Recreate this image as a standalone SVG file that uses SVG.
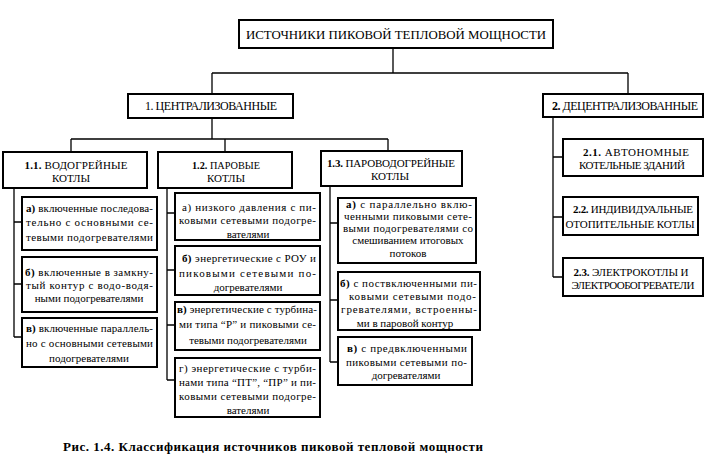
<svg xmlns="http://www.w3.org/2000/svg" width="723" height="462" viewBox="0 0 723 462">
<style>
.box{fill:#fff;stroke:#000;stroke-width:2}
.ln{stroke:#000;stroke-width:1.3;fill:none}
text{font-family:"Liberation Serif",serif}
.t{font-size:11px}
.h{font-size:11px}
.c{text-anchor:middle}
.b{font-weight:bold}
</style>
<rect width="723" height="462" fill="#fff"/>
<g id="connectors">
<path class="ln" d="M393,48V73M212,73H628M212,73V94M628,73V94"/>
<path class="ln" d="M212,118V139M71,139H388M71,139V152M225,139V152M388,139V151"/>
<path class="ln" d="M14,188V337M14,222H22M14,284H22M14,337H22"/>
<path class="ln" d="M167,188V380M167,213H175M167,270H175M167,325H175M167,380H175"/>
<path class="ln" d="M330,186V362M330,223H338M330,300H338M330,362H338"/>
<path class="ln" d="M553,117V277M553,157H563M553,217H563M553,277H563"/>
</g>
<g id="root">
<rect class="box" x="239" y="20" width="314" height="28"/>
<text x="396" y="39" class="c" font-size="13.5" textLength="300" lengthAdjust="spacingAndGlyphs">ИСТОЧНИКИ  ПИКОВОЙ  ТЕПЛОВОЙ  МОЩНОСТИ</text>
</g>
<g id="n1">
<rect class="box" x="128" y="94" width="165" height="24"/>
<text x="211" y="110" class="c" font-size="12" textLength="132" lengthAdjust="spacing">1. ЦЕНТРАЛИЗОВАННЫЕ</text>
</g>
<g id="n2">
<rect class="box" x="543" y="94" width="160" height="23"/>
<text x="625" y="110" class="c" font-size="12" textLength="146" lengthAdjust="spacing"><tspan class="b">2.</tspan> ДЕЦЕНТРАЛИЗОВАННЫЕ</text>
</g>
<g id="n11">
<rect class="box" x="3" y="152" width="144" height="36"/>
<text x="76" y="169" class="h c" textLength="103" lengthAdjust="spacing"><tspan class="b">1.1.</tspan> ВОДОГРЕЙНЫЕ</text>
<text x="71" y="182" class="h c">КОТЛЫ</text>
</g>
<g id="n12">
<rect class="box" x="158" y="152" width="134" height="36"/>
<text x="226" y="169" class="h c" textLength="68" lengthAdjust="spacingAndGlyphs"><tspan class="b">1.2.</tspan> ПАРОВЫЕ</text>
<text x="226" y="182" class="h c">КОТЛЫ</text>
</g>
<g id="n13">
<rect class="box" x="321" y="151" width="141" height="35"/>
<text x="391" y="167" class="h c" textLength="128" lengthAdjust="spacing"><tspan class="b">1.3.</tspan> ПАРОВОДОГРЕЙНЫЕ</text>
<text x="390" y="180" class="h c">КОТЛЫ</text>
</g>
<g id="n11a">
<rect class="box" x="22" y="197" width="135" height="53"/>
<text x="26" y="212" class="t" textLength="127" lengthAdjust="spacing"><tspan class="b">а)</tspan> включенные последова-</text>
<text x="26" y="226" class="t" textLength="127" lengthAdjust="spacing">тельно с основными се-</text>
<text x="26" y="241" class="t" textLength="127" lengthAdjust="spacing">тевыми подогревателями</text>
</g>
<g id="n11b">
<rect class="box" x="22" y="257" width="135" height="55"/>
<text x="25" y="276" class="t" textLength="128" lengthAdjust="spacing"><tspan class="b">б)</tspan> включенные  в  замкну-</text>
<text x="26" y="289" class="t" textLength="127" lengthAdjust="spacing">тый контур с водо-водя-</text>
<text x="89" y="302" class="t c">ными подогревателями</text>
</g>
<g id="n11c">
<rect class="box" x="22" y="318" width="135" height="49"/>
<text x="26" y="332" class="t" textLength="127" lengthAdjust="spacing"><tspan class="b">в)</tspan> включенные параллель-</text>
<text x="26" y="347" class="t" textLength="127" lengthAdjust="spacing">но с основными сетевыми</text>
<text x="89" y="362" class="t c">подогревателями</text>
</g>
<g id="n12a">
<rect class="box" x="175" y="193" width="145" height="47"/>
<text x="182" y="211" class="t" textLength="134" lengthAdjust="spacing">а) низкого  давления  с  пи-</text>
<text x="179" y="224" class="t" textLength="137" lengthAdjust="spacing">ковыми сетевыми подогре-</text>
<text x="248" y="238" class="t c">вателями</text>
</g>
<g id="n12b">
<rect class="box" x="175" y="246" width="145" height="49"/>
<text x="182" y="262" class="t" textLength="134" lengthAdjust="spacing"><tspan class="b">б)</tspan> энергетические с РОУ и</text>
<text x="179" y="277" class="t" textLength="137" lengthAdjust="spacing">пиковыми  сетевыми  по-</text>
<text x="248" y="291" class="t c">догревателями</text>
</g>
<g id="n12c">
<rect class="box" x="175" y="302" width="145" height="48"/>
<text x="177" y="313" class="t" textLength="140" lengthAdjust="spacing"><tspan class="b">в)</tspan> энергетические с турбина-</text>
<text x="179" y="328" class="t" textLength="137" lengthAdjust="spacing">ми типа “Р” и пиковыми се-</text>
<text x="248" y="344" class="t c">тевыми подогревателями</text>
</g>
<g id="n12d">
<rect class="box" x="175" y="358" width="145" height="59"/>
<text x="179" y="372" class="t" textLength="137" lengthAdjust="spacing">г) энергетические  с  турби-</text>
<text x="179" y="386" class="t" textLength="137" lengthAdjust="spacing">нами типа “ПТ”, “ПР” и пи-</text>
<text x="179" y="400" class="t" textLength="137" lengthAdjust="spacing">ковыми сетевыми подогре-</text>
<text x="248" y="414" class="t c">вателями</text>
</g>
<g id="n13a">
<rect class="box" x="338" y="198" width="138" height="65"/>
<text x="346" y="208" class="t" textLength="126" lengthAdjust="spacing"><tspan class="b">а)</tspan>  с параллельно вклю-</text>
<text x="344" y="220" class="t" textLength="128" lengthAdjust="spacing">ченными пиковыми сете-</text>
<text x="343" y="232" class="t" textLength="130" lengthAdjust="spacing">выми подогревателями со</text>
<text x="408" y="244" class="t c">смешиванием итоговых</text>
<text x="408" y="257" class="t c">потоков</text>
</g>
<g id="n13b">
<rect class="box" x="338" y="272" width="142" height="58"/>
<text x="340" y="287" class="t" textLength="137" lengthAdjust="spacing"><tspan class="b">б)</tspan> с поствключенными пи-</text>
<text x="349" y="300" class="t" textLength="127" lengthAdjust="spacing">ковыми сетевыми подо-</text>
<text x="341" y="313" class="t" textLength="136" lengthAdjust="spacing">гревателями, встроенны-</text>
<text x="405" y="327" class="t c">ми в паровой контур</text>
</g>
<g id="n13c">
<rect class="box" x="338" y="337" width="134" height="48"/>
<text x="347" y="352" class="t" textLength="120" lengthAdjust="spacing"><tspan class="b">в)</tspan> с предвключенными</text>
<text x="346" y="366" class="t" textLength="121" lengthAdjust="spacing">пиковыми сетевыми по-</text>
<text x="406" y="379" class="t c">догревателями</text>
</g>
<g id="n21">
<rect class="box" x="563" y="139" width="140" height="37"/>
<text x="636" y="156" class="h c" textLength="106" lengthAdjust="spacing"><tspan class="b">2.1.</tspan>  АВТОНОМНЫЕ</text>
<text x="632" y="169" class="h c" textLength="106" lengthAdjust="spacing">КОТЕЛЬНЫЕ ЗДАНИЙ</text>
</g>
<g id="n22">
<rect class="box" x="563" y="197" width="135" height="38"/>
<text x="633" y="213" class="h c" textLength="120" lengthAdjust="spacing"><tspan class="b">2.2.</tspan> ИНДИВИДУАЛЬНЫЕ</text>
<text x="630" y="228" class="h c" textLength="129" lengthAdjust="spacing">ОТОПИТЕЛЬНЫЕ КОТЛЫ</text>
</g>
<g id="n23">
<rect class="box" x="563" y="258" width="140" height="38"/>
<text x="631" y="276" class="h c" textLength="115" lengthAdjust="spacing"><tspan class="b">2.3.</tspan> ЭЛЕКТРОКОТЛЫ  И</text>
<text x="633" y="289" class="h c" textLength="123" lengthAdjust="spacing">ЭЛЕКТРООБОГРЕВАТЕЛИ</text>
</g>
<text x="63" y="451" font-size="13" font-weight="bold" textLength="420" lengthAdjust="spacing">Рис. 1.4.  Классификация  источников пиковой  тепловой  мощности</text>
</svg>
